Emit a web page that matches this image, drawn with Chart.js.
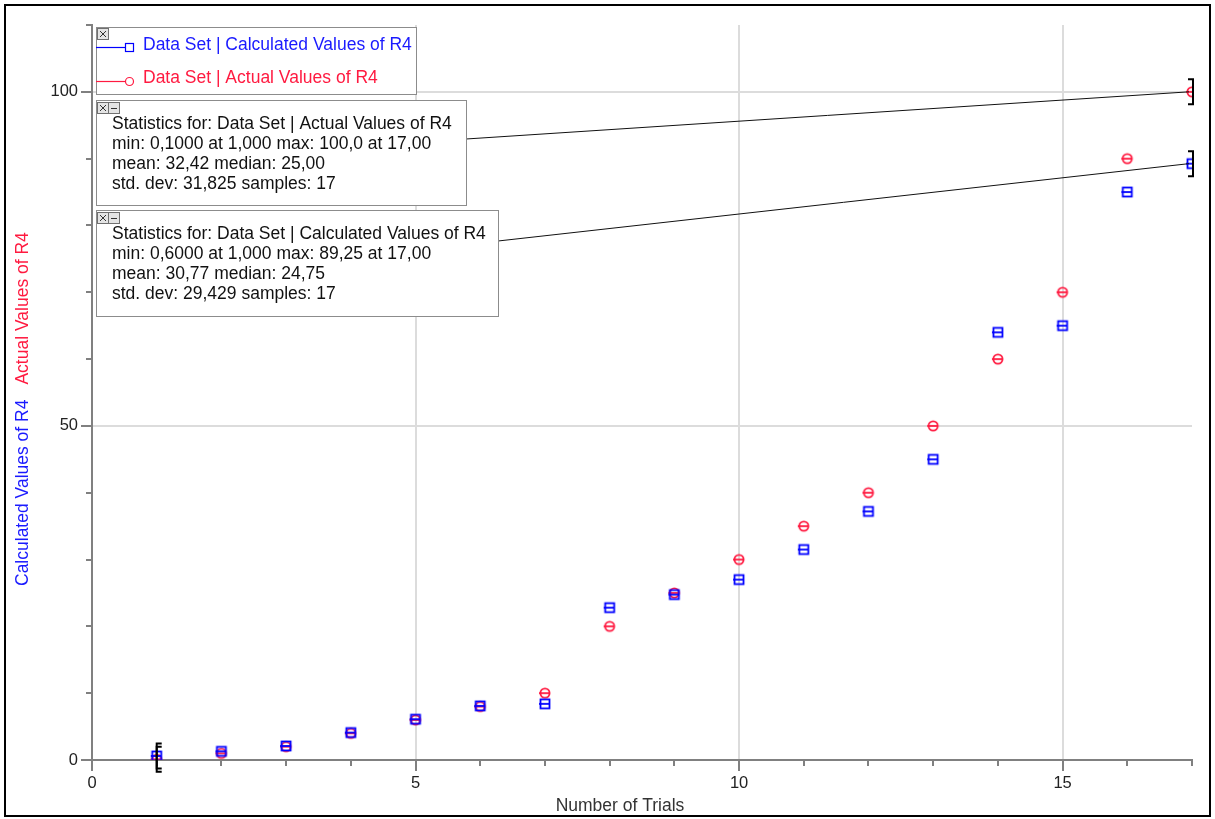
<!DOCTYPE html>
<html><head><meta charset="utf-8">
<script src="https://cdn.jsdelivr.net/npm/chart.js@4.4.1/dist/chart.umd.min.js"></script>
<style>html,body{margin:0;padding:0;background:#fff;}#wrap{width:1215px;height:819px;position:relative;}</style>
</head><body><div id="wrap"><canvas id="c" width="1215" height="819"></canvas></div>
<script>
const trials = [1,2,3,4,5,6,7,8,9,10,11,12,13,14,15,16,17];
const calculatedValues = [0.6,1.3,2.1,4.1,6.1,8.1,8.4,22.8,24.75,27.0,31.5,37.2,45.0,64.0,65.0,85.0,89.25];
const actualValues = [0.1,1,2,4,6,8,10,20,25,30,35,40,50,60,70,90,100];
const xTickLabels = [0,5,10,15];
const yTickLabels = [0,50,100];
const seriesNames = ['Data Set | Calculated Values of R4','Data Set | Actual Values of R4'];
const statsActual = ['Statistics for: Data Set | Actual Values of R4','min: 0,1000 at 1,000 max: 100,0 at 17,00','mean: 32,42 median: 25,00','std. dev: 31,825 samples: 17'];
const statsCalculated = ['Statistics for: Data Set | Calculated Values of R4','min: 0,6000 at 1,000 max: 89,25 at 17,00','mean: 30,77 median: 24,75','std. dev: 29,429 samples: 17'];
const yTitleParts = ['Calculated Values of R4','Actual Values of R4'];
const xTitle = 'Number of Trials';

const BLUE = '#0000ff', RED = '#ff1a40';
const BLUE_TXT = '#1a1aff', RED_TXT = '#ff1a40';
const FONT = '"Liberation Sans", Arial, sans-serif';
const TXT = '17.5px ' + FONT;
Chart.defaults.font.family = FONT;

function makeMarker(kind, color){
  const c = document.createElement('canvas'); c.width = 14; c.height = 14;
  const g = c.getContext('2d'); g.strokeStyle = color; g.lineWidth = 1.8;
  if (kind === 'rect') { g.strokeRect(2.5,2.5,9,9); }
  else { g.beginPath(); g.arc(7,7,4.6,0,Math.PI*2); g.stroke(); }
  g.beginPath(); g.moveTo(1,7); g.lineTo(12,7); g.stroke();
  return c;
}
const calcPts = trials.map((t,i)=>({x:t,y:calculatedValues[i]}));
const actPts = trials.map((t,i)=>({x:t,y:actualValues[i]}));

function drawButton(ctx, x, y, glyph){
  ctx.fillStyle = '#e4e4e4'; ctx.fillRect(x, y, 11, 11);
  ctx.strokeStyle = '#707070'; ctx.lineWidth = 1; ctx.strokeRect(x+0.5, y+0.5, 11, 11);
  ctx.strokeStyle = '#333'; ctx.beginPath();
  if (glyph === 'x') { ctx.moveTo(x+3,y+3); ctx.lineTo(x+9,y+9); ctx.moveTo(x+9,y+3); ctx.lineTo(x+3,y+9); }
  else { ctx.moveTo(x+3,y+6.5); ctx.lineTo(x+9,y+6.5); }
  ctx.stroke();
}

const overlay = {
  id: 'overlay',
  beforeDatasetsDraw(chart){
    const {ctx, scales:{x,y}, chartArea:a} = chart;
    ctx.save();
    ctx.strokeStyle = '#808080'; ctx.lineWidth = 2;
    for (let i=0;i<=17;i++){ const px = Math.round(x.getPixelForValue(i)); const L = i%5===0?11:6;
      ctx.beginPath(); ctx.moveTo(px, a.bottom); ctx.lineTo(px, a.bottom+L); ctx.stroke(); }
    for (let v=0;v<=110;v+=10){ const py = Math.round(y.getPixelForValue(v)); const L = v%50===0?11:6;
      ctx.beginPath(); ctx.moveTo(a.left, py); ctx.lineTo(a.left-L, py); ctx.stroke(); }
    ctx.restore();
  },
  afterDatasetsDraw(chart){
    const {ctx, scales:{x,y}} = chart;
    ctx.save();
    // brackets
    ctx.strokeStyle = '#000'; ctx.lineWidth = 2;
    const bracket = (xv, yv, dir) => {
      const px = x.getPixelForValue(xv) + (dir>0?0:1), py = y.getPixelForValue(yv);
      ctx.beginPath(); ctx.moveTo(px+5*dir, py-12.5); ctx.lineTo(px, py-12.5); ctx.lineTo(px, py+12.5); ctx.lineTo(px+5*dir, py+12.5); ctx.stroke();
    };
    bracket(trials[0], actualValues[0], 1); bracket(trials[0], calculatedValues[0], 1);
    const last = trials.length-1;
    bracket(trials[last], actualValues[last], -1); bracket(trials[last], calculatedValues[last], -1);
    // connector lines
    ctx.strokeStyle = '#111'; ctx.lineWidth = 1;
    ctx.beginPath(); ctx.moveTo(466, 139); ctx.lineTo(x.getPixelForValue(trials[last])-3, y.getPixelForValue(actualValues[last])); ctx.stroke();
    ctx.beginPath(); ctx.moveTo(498, 241); ctx.lineTo(x.getPixelForValue(trials[last])-3, y.getPixelForValue(calculatedValues[last])); ctx.stroke();

    // legend box
    ctx.fillStyle = '#fff'; ctx.fillRect(96, 27, 321, 68);
    ctx.strokeStyle = '#8c8c8c'; ctx.lineWidth = 1; ctx.strokeRect(96.5, 27.5, 320, 67);
    drawButton(ctx, 97, 28, 'x');
    ctx.font = TXT; ctx.textBaseline = 'middle'; ctx.textAlign = 'left';
    ctx.lineWidth = 1.2;
    ctx.strokeStyle = BLUE; ctx.beginPath(); ctx.moveTo(96, 47.5); ctx.lineTo(125, 47.5); ctx.stroke();
    ctx.strokeRect(125.5, 43.5, 8, 8);
    ctx.fillStyle = BLUE_TXT; ctx.fillText(seriesNames[0], 143, 45);
    ctx.strokeStyle = RED; ctx.beginPath(); ctx.moveTo(96, 81.5); ctx.lineTo(125, 81.5); ctx.stroke();
    ctx.beginPath(); ctx.arc(129.5, 81.5, 4, 0, Math.PI*2); ctx.stroke();
    ctx.fillStyle = RED_TXT; ctx.fillText(seriesNames[1], 143, 78);

    // stats boxes
    const statBox = (bx, by, bw, bh, lines) => {
      ctx.fillStyle = '#fff'; ctx.fillRect(bx, by, bw, bh);
      ctx.strokeStyle = '#8c8c8c'; ctx.lineWidth = 1; ctx.strokeRect(bx+0.5, by+0.5, bw-1, bh-1);
      drawButton(ctx, bx+1, by+2, 'x'); drawButton(ctx, bx+12, by+2, '-');
      ctx.fillStyle = '#111'; ctx.font = TXT; ctx.textBaseline = 'middle';
      lines.forEach((t,i)=> ctx.fillText(t, bx+16, by+24+i*20.1));
    };
    statBox(96, 100, 371, 106, statsActual);
    statBox(96, 210, 403, 107, statsCalculated);

    // y title
    ctx.save();
    ctx.translate(23, 586); ctx.rotate(-Math.PI/2);
    ctx.font = TXT; ctx.textAlign = 'left'; ctx.textBaseline = 'middle';
    ctx.fillStyle = BLUE_TXT; ctx.fillText(yTitleParts[0], 0, 0);
    const w = ctx.measureText(yTitleParts[0]).width;
    ctx.fillStyle = RED_TXT; ctx.fillText(yTitleParts[1], w + 15, 0);
    ctx.restore();

    // x title
    ctx.fillStyle = '#333'; ctx.font = TXT; ctx.textAlign = 'center'; ctx.textBaseline = 'middle';
    ctx.fillText(xTitle, 620, 806);

    // outer frame
    ctx.strokeStyle = '#000'; ctx.lineWidth = 2;
    ctx.strokeRect(5, 5, 1205, 811);
    ctx.restore();
  }
};

new Chart(document.getElementById('c'), {
  type: 'scatter',
  data: { datasets: [
    { label: seriesNames[0], data: calcPts, pointStyle: makeMarker('rect', BLUE), borderColor: BLUE, backgroundColor: BLUE, showLine:false },
    { label: seriesNames[1], data: actPts, pointStyle: makeMarker('circle', RED), borderColor: RED, backgroundColor: RED, showLine:false }
  ]},
  options: {
    responsive: false, animation: false, devicePixelRatio: 1,
    layout: { padding: { top: 25, right: 23, left: 0, bottom: 0 } },
    plugins: { legend: { display: false }, tooltip: { enabled: false } },
    scales: {
      x: { type: 'linear', min: 0, max: 17,
        ticks: { stepSize: 1, autoSkip: false, maxRotation: 0, padding: 14, color: '#222', font: { size: 16.5 },
          callback: v => xTickLabels.includes(v) ? String(v) : '' },
        grid: { drawTicks: false, lineWidth: 2, color: c => (c.tick && c.tick.value % 5 === 0 && c.tick.value !== 0) ? '#dcdcdc' : 'rgba(0,0,0,0)' },
        border: { color: '#808080', width: 2 },
        afterFit: s => { s.height = 59; } },
      y: { type: 'linear', min: 0, max: 110,
        ticks: { stepSize: 10, autoSkip: false, padding: 14, color: '#222', font: { size: 16.5 },
          callback: v => yTickLabels.includes(v) ? String(v) : '' },
        grid: { drawTicks: false, lineWidth: 2, color: c => (c.tick && c.tick.value % 50 === 0 && c.tick.value !== 0) ? '#dcdcdc' : 'rgba(0,0,0,0)' },
        border: { color: '#808080', width: 2 },
        afterFit: s => { s.width = 92; } }
    }
  },
  plugins: [overlay]
});
</script></body></html>
